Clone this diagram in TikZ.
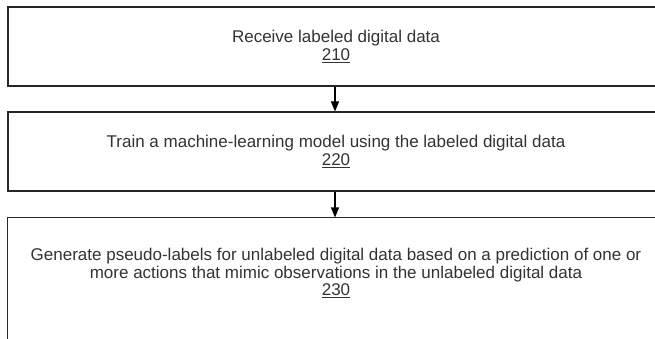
\documentclass[tikz,border=0pt]{standalone}
\usepackage{fontspec}
\setmainfont{Liberation Sans}
\usetikzlibrary{arrows.meta}
\begin{document}
\begin{tikzpicture}[x=1pt,y=-1pt,
  stepbox/.style={draw=black!85, line width=1.1pt, minimum width=656pt,
    minimum height=79pt, inner sep=0pt, align=center,
    font=\fontsize{17pt}{17.5pt}\selectfont, text=black!80},
  flow/.style={draw=black, line width=1.1pt,
    -{Triangle[width=8pt,length=10pt]}}]
  \clip (0,0) rectangle (655,338);
  \useasboundingbox (0,0) rectangle (655,338);
  \node[stepbox] (s210) at (336,46.5)
    {Receive labeled digital data\\\underline{210}};
  \node[stepbox] (s220) at (336,151.5)
    {Train a machine-learning model using the labeled digital data\\\underline{220}};
  \node[stepbox, draw=none, minimum height=110pt] (s230) at (336,273)
    {Generate pseudo-labels for unlabeled digital data based on a prediction of one or\\
     more actions that mimic observations in the unlabeled digital data\\\underline{230}};
  % the last step's frame runs on past the lower edge
  \draw[draw=black!85, line width=1.1pt]
    ([yshift=-40pt]s230.south west) -- (s230.north west)
    -- (s230.north east) -- ([yshift=-40pt]s230.south east);
  \draw[flow] (s210.south -| 335,0) -- (s220.north -| 335,0);
  \draw[flow] (s220.south -| 335,0) -- (s230.north -| 335,0);
\end{tikzpicture}
\end{document}
